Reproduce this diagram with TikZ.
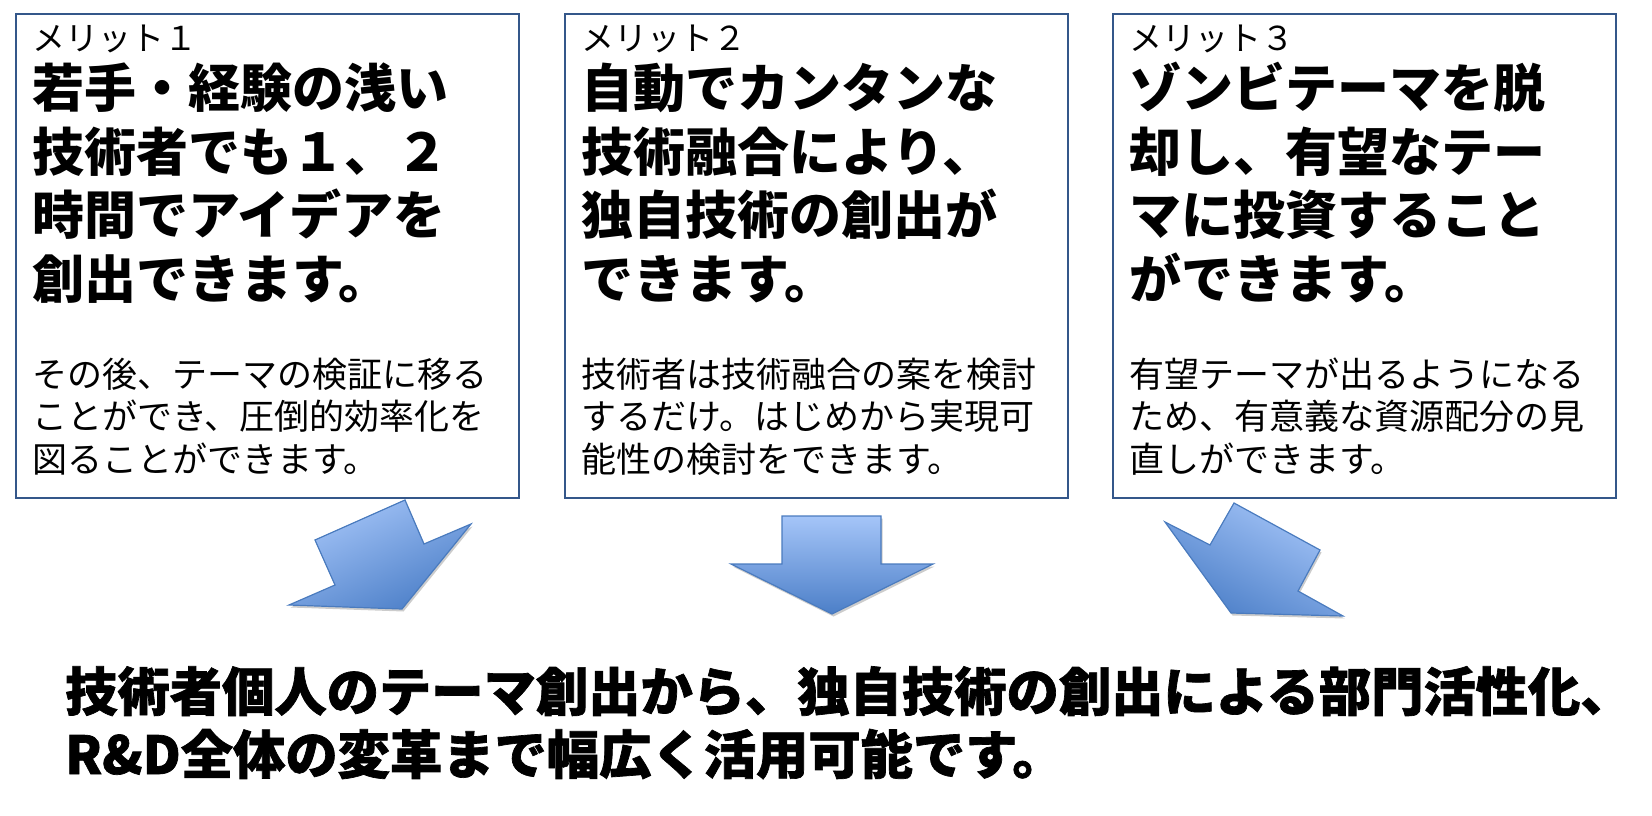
\documentclass[tikz,border=0pt]{standalone}
\usepackage{fontspec}
\setmainfont{Noto Sans CJK JP}
\newfontfamily\heavyfont{Noto Sans CJK JP}[BoldFeatures={FakeBold=1.3}]
\usetikzlibrary{shadows}
\definecolor{boxblue}{HTML}{34578A}
\definecolor{arrowedge}{HTML}{4A7BBE}
\definecolor{arrowtop}{HTML}{A5C5F8}
\definecolor{arrowbot}{HTML}{4C7FC8}
\tikzset{
  meritbox/.style={draw=boxblue, line width=2pt, fill=white, anchor=north west,
    minimum width=503pt, minimum height=484pt, inner sep=0pt},
  lbl/.style={anchor=base west, inner sep=0pt, font=\fontsize{33}{33}\selectfont},
  headline/.style={anchor=base west, inner sep=0pt, font=\fontsize{52}{52}\selectfont\bfseries},
  bodyline/.style={anchor=base west, inner sep=0pt, font=\fontsize{35}{35}\selectfont},
  concl/.style={anchor=base west, inner sep=0pt, font=\heavyfont\fontsize{52.3}{52.3}\selectfont\bfseries},
  blockarrow/.style={draw=arrowedge, line width=1.2pt, line join=miter,
    top color=arrowtop, bottom color=arrowbot,
    drop shadow={shadow xshift=1.5pt, shadow yshift=-2.5pt, opacity=0.2, fill=black}}
}
\begin{document}
\begin{tikzpicture}[x=1pt, y=-1pt]
\useasboundingbox (0,0) rectangle (1652,816);
% boxes
\node[meritbox] (m1) at (15,12.7) {};
\node[meritbox] (m2) at (564,12.7) {};
\node[meritbox] (m3) at (1112,12.7) {};
% box 1
\node[lbl] (l1) at (32,51) {メリット１};
\node[headline] (h1a) at (32,107) {若手・経験の浅い};
\node[headline] (h1b) at (32,171) {技術者でも１、２};
\node[headline] (h1c) at (32,234.5) {時間でアイデアを};
\node[headline] (h1d) at (32,298) {創出できます。};
\node[bodyline] (t1a) at (32,387) {その後、テーマの検証に移る};
\node[bodyline] (t1b) at (32,429.5) {ことができ、圧倒的効率化を};
\node[bodyline] (t1c) at (32,472) {図ることができます。};
% box 2
\node[lbl] (l2) at (581,51) {メリット２};
\node[headline] (h2a) at (581,107) {自動でカンタンな};
\node[headline] (h2b) at (581,171) {技術融合により、};
\node[headline] (h2c) at (581,234.5) {独自技術の創出が};
\node[headline] (h2d) at (581,298) {できます。};
\node[bodyline] (t2a) at (581,387) {技術者は技術融合の案を検討};
\node[bodyline] (t2b) at (581,429.5) {するだけ。はじめから実現可};
\node[bodyline] (t2c) at (581,472) {能性の検討をできます。};
% box 3
\node[lbl] (l3) at (1129,51) {メリット３};
\node[headline] (h3a) at (1129,107) {ゾンビテーマを脱};
\node[headline] (h3b) at (1129,171) {却し、有望なテー};
\node[headline] (h3c) at (1129,234.5) {マに投資すること};
\node[headline] (h3d) at (1129,298) {ができます。};
\node[bodyline] (t3a) at (1129,387) {有望テーマが出るようになる};
\node[bodyline] (t3b) at (1129,429.5) {ため、有意義な資源配分の見};
\node[bodyline] (t3c) at (1129,472) {直しができます。};
% arrows
\path[blockarrow, shading angle=25]
  (315,540) -- (405,500) -- (424,544) -- (471,524) -- (402,609) -- (289,605) -- (335,585) -- cycle;
\path[blockarrow]
  (782,516) -- (881,516) -- (881,564) -- (933,564) -- (832,614) -- (731,564) -- (782,564) -- cycle;
\path[blockarrow, shading angle=-28]
  (1234,503) -- (1320,550) -- (1298,591) -- (1343,616) -- (1231,613) -- (1165,522) -- (1210,545) -- cycle;
% conclusion
\node[concl] (c1) at (65,711) {技術者個人のテーマ創出から、独自技術の創出による部門活性化、};
\node[concl] (c2) at (65,774) {R\&D全体の変革まで幅広く活用可能です。};
\end{tikzpicture}
\end{document}
